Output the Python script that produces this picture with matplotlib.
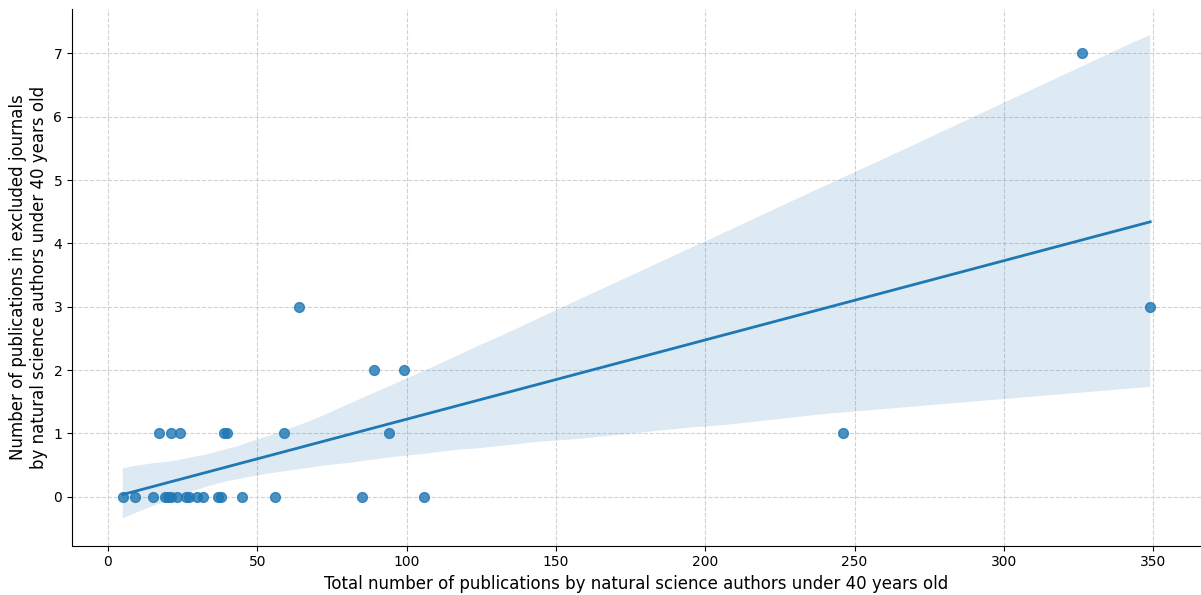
import numpy as np
import pandas as pd
import matplotlib
matplotlib.use("Agg")
import matplotlib.pyplot as plt
import seaborn as sns

# total publications (x) and excluded-journal publications (y)
total_pubs = [5, 9, 15, 19, 20, 21, 23, 26, 27, 30, 32, 37, 38, 45, 56, 85, 106,
              17, 21, 24, 39, 40, 59, 94, 246,
              89, 99,
              64, 349,
              326]
excluded_pubs = [0, 0, 0, 0, 0, 0, 0, 0, 0, 0, 0, 0, 0, 0, 0, 0, 0,
                 1, 1, 1, 1, 1, 1, 1, 1,
                 2, 2,
                 3, 3,
                 7]

df = pd.DataFrame({"total": total_pubs, "excluded": excluded_pubs})

fig, ax = plt.subplots(figsize=(12.01, 5.95), dpi=100)
sns.regplot(data=df, x="total", y="excluded", ax=ax, color="#1f77b4",
            scatter_kws={"s": 50, "alpha": 0.8}, line_kws={"lw": 2}, seed=3)
ax.grid(True, linestyle="--", color="#cccccc", alpha=0.9)
ax.set_axisbelow(True)
ax.spines["top"].set_visible(False)
ax.spines["right"].set_visible(False)
ax.set_xlim(-12, 366)
ax.set_ylim(-0.77, 7.7)
ax.set_xlabel("Total number of publications by natural science authors under 40 years old", fontsize=12)
ax.set_ylabel("Number of publications in excluded journals\nby natural science authors under 40 years old", fontsize=12)
ax.tick_params(labelsize=10)
plt.subplots_adjust(left=0.06, right=1.0, top=0.985, bottom=0.083)
fig.savefig("out.png", dpi=100)
